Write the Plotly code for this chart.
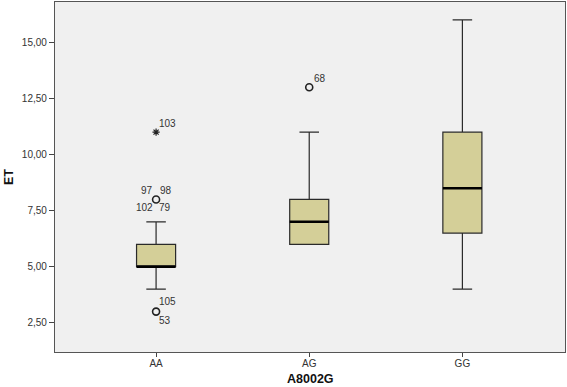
import plotly.graph_objects as go

categories = ["AA", "AG", "GG"]
q1 = [5.0, 6.0, 6.5]
median = [5.0, 7.0, 8.5]
q3 = [6.0, 8.0, 11.0]
lower_whisker = [4.0, 6.0, 4.0]
upper_whisker = [7.0, 11.0, 16.0]

# outliers
circle_cat = ["AA", "AA", "AG"]
circle_val = [8.0, 3.0, 13.0]
star_cat = ["AA"]
star_val = [11.0]

# outlier labels
label_cat = ["AA", "AA", "AA", "AA", "AA", "AA", "AA", "AG"]
label_val = [11.0, 8.0, 8.0, 8.0, 8.0, 3.0, 3.0, 13.0]
label_txt = ["103", "97", "98", "102", "79", "105", "53", "68"]
label_dx = [11, -9, 10, -12, 9, 11, 9, 11]
label_dy = [9, 9, 9, -8, -8, 10, -9, 9]

y_ticks = [2.5, 5, 7.5, 10, 12.5, 15]
y_ticktext = ["2,50", "5,00", "7,50", "10,00", "12,50", "15,00"]

BOX_W = 0.255
fig = go.Figure()
fig.add_trace(go.Box(
    x=categories, q1=q1, median=median, q3=q3,
    lowerfence=lower_whisker, upperfence=upper_whisker,
    width=BOX_W, whiskerwidth=0.5,
    fillcolor="#D4CF98", line=dict(color="#2a2a2a", width=1.2),
    boxpoints=False, showlegend=False, hoverinfo="skip",
))
fig.add_trace(go.Scatter(
    x=circle_cat, y=circle_val, mode="markers",
    marker=dict(symbol="circle-open", size=7, color="#222", line=dict(width=1.6)),
    showlegend=False, hoverinfo="skip",
))
fig.add_trace(go.Scatter(
    x=star_cat, y=star_val, mode="markers",
    marker=dict(symbol="asterisk-open", size=6, color="#222", line=dict(width=1.2)),
    showlegend=False, hoverinfo="skip",
))

for i, m in enumerate(median):
    fig.add_shape(type="line", xref="x", yref="y",
                  x0=i - BOX_W / 2, x1=i + BOX_W / 2, y0=m, y1=m,
                  line=dict(color="black", width=2.5))

for c, v, t, dx, dy in zip(label_cat, label_val, label_txt, label_dx, label_dy):
    fig.add_annotation(x=c, y=v, text=t, showarrow=False, xshift=dx, yshift=dy,
                       font=dict(size=10, color="#333"))

# axis titles
fig.add_annotation(xref="paper", yref="paper", x=0.5, y=-0.077, yanchor="middle",
                   text="<b>A8002G</b>", showarrow=False,
                   font=dict(size=12.5, color="#111"))
fig.add_annotation(xref="paper", yref="paper", x=-0.09, y=0.5, xanchor="center",
                   textangle=-90, text="<b>ET</b>", showarrow=False,
                   font=dict(size=12.5, color="#111"))

fig.update_layout(
    width=567, height=387,
    margin=dict(l=55, r=2, t=2, b=35, autoexpand=False),
    paper_bgcolor="white", plot_bgcolor="#F0F0F0",
    font=dict(family="Liberation Sans, Arial, sans-serif", size=10, color="#333"),
)
fig.update_xaxes(
    type="category", range=[-0.66, 2.67], automargin=False,
    showline=True, linecolor="#555", linewidth=1.2, mirror=True,
    ticks="outside", ticklen=4, tickcolor="#444", showgrid=False, zeroline=False,
    ticklabelstandoff=-2,
)
fig.update_yaxes(
    range=[1.2, 16.8], tickvals=y_ticks, ticktext=y_ticktext, automargin=False,
    showline=True, linecolor="#555", linewidth=1.2, mirror=True,
    ticks="outside", ticklen=5, tickcolor="#444", showgrid=False, zeroline=False,
)

fig.write_html("out.html", post_script="document.body.style.margin='0';",
               config={"displayModeBar": False})
